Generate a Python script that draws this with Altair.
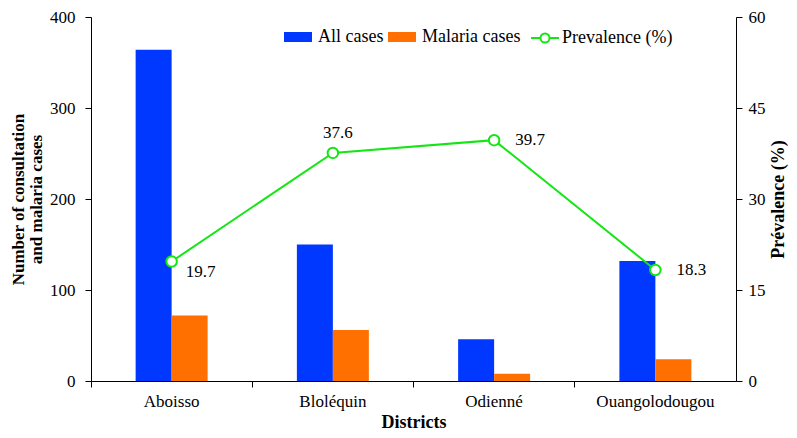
import altair as alt
import pandas as pd

districts = ["Aboisso", "Bloléquin", "Odienné", "Ouangolodougou"]
all_cases = [364, 150, 46, 132]
malaria_cases = [72, 56, 8, 24]
prevalence = [19.7, 37.6, 39.7, 18.3]
series_names = ["All cases", "Malaria cases"]
line_name = "Prevalence (%)"

BLUE = "#0038FF"
ORANGE = "#FF7000"
GREEN = "#14E614"
FONT = "Liberation Serif"

bars_df = pd.DataFrame({
    "district": districts * 2,
    "series": [series_names[0]] * len(districts) + [series_names[1]] * len(districts),
    "value": all_cases + malaria_cases,
})
prev_df = pd.DataFrame({
    "district": districts,
    "prevalence": prevalence,
    "series": [line_name] * len(districts),
    "label": [f"{v:.1f}" for v in prevalence],
})

x_scale = alt.Scale(domain=districts, paddingInner=0, paddingOuter=0)
# empty slots on either side keep the bar pair narrow inside each band
offset_domain = ["_gap_left"] + series_names + ["_gap_right"]

RECT_PATH = "M-1.4,-0.5H1.4V0.5H-1.4Z"
LINE_PATH = ("M-1.4,0H-0.45M0.45,0H1.4M-0.45,0A0.45,0.45 0 1,0 0.45,0"
             "A0.45,0.45 0 1,0 -0.45,0Z")

axis_font = dict(labelFont=FONT, labelFontSize=17, titleFont=FONT, titleFontSize=18,
                 titleFontWeight="bold", titleColor="black", labelColor="black")

bar_layer = alt.Chart(bars_df).mark_bar().encode(
    x=alt.X("district:N", scale=x_scale, sort=districts,
            axis=alt.Axis(title="Districts", ticks=False, tickSize=0, labelAngle=0,
                          labelPadding=12, titlePadding=4, domainColor="black",
                          domainWidth=1, orient="bottom", grid=False, **axis_font)),
    xOffset=alt.XOffset("series:N",
                        scale=alt.Scale(domain=offset_domain, paddingInner=0, paddingOuter=0.24)),
    y=alt.Y("value:Q", scale=alt.Scale(domain=[0, 400]),
            axis=alt.Axis(title=["Number of consultation", "and malaria cases"],
                          values=[0, 100, 200, 300, 400], grid=False, tickSize=6,
                          labelPadding=10, titlePadding=4, titleLineHeight=18,
                          domainColor="black", tickColor="black", orient="left",
                          labelFont=FONT, labelFontSize=17, titleFont=FONT,
                          titleFontSize=17, titleFontWeight="bold", titleColor="black",
                          labelColor="black")),
    color=alt.Color("series:N", sort=series_names,
                    scale=alt.Scale(domain=series_names, range=[BLUE, ORANGE]),
                    legend=alt.Legend(title=None, orient="none", direction="horizontal",
                                      legendX=197, legendY=10, symbolType=RECT_PATH,
                                      symbolSize=400, symbolStrokeWidth=0, labelOffset=10,
                                      columnPadding=4, labelFontSize=18, labelFont=FONT,
                                      labelColor="black")),
)

tick_layer = alt.Chart(prev_df).mark_point(opacity=0).encode(
    x=alt.X("district:N", scale=x_scale, sort=districts,
            axis=alt.Axis(title=None, labels=False, domain=False, ticks=True, tickSize=6,
                          tickColor="black", bandPosition=0, orient="bottom", grid=False)),
    y=alt.Y("prevalence:Q", scale=alt.Scale(domain=[0, 60]), axis=None),
)

line_layer = alt.Chart(prev_df).mark_line(
    strokeWidth=2,
    point=alt.OverlayMarkDef(filled=True, fill="white", strokeWidth=2, size=110),
).encode(
    x=alt.X("district:N", scale=x_scale, sort=districts, axis=None),
    y=alt.Y("prevalence:Q", scale=alt.Scale(domain=[0, 60]),
            axis=alt.Axis(title="Prévalence (%)", orient="right", values=[0, 15, 30, 45, 60],
                          grid=False, tickSize=6, labelPadding=6, titlePadding=22,
                          titleAngle=270, domainColor="black", tickColor="black",
                          **axis_font)),
    stroke=alt.Stroke("series:N", scale=alt.Scale(domain=[line_name], range=[GREEN]),
                      legend=alt.Legend(title=None, orient="none", direction="horizontal",
                                        legendX=443, legendY=10, symbolType=LINE_PATH,
                                        symbolSize=400, symbolStrokeWidth=2,
                                        symbolFillColor="white", labelOffset=6,
                                        labelFontSize=18, labelFont=FONT, labelColor="black")),
)

def labels(names, align, dx, dy):
    return alt.Chart(prev_df).transform_filter(
        alt.FieldOneOfPredicate(field="district", oneOf=names)
    ).mark_text(align=align, baseline="middle", dx=dx, dy=dy, fontSize=17,
                font=FONT, color="black").encode(
        x=alt.X("district:N", scale=x_scale, sort=districts, axis=None),
        y=alt.Y("prevalence:Q", scale=alt.Scale(domain=[0, 60]), axis=None),
        text="label:N",
    )

chart = alt.layer(
    bar_layer,
    line_layer,
    tick_layer,
    labels(["Aboisso"], "left", 14, 11),
    labels(["Bloléquin"], "center", 5, -20),
    labels(["Odienné", "Ouangolodougou"], "left", 21, 0),
).resolve_scale(
    y="independent", color="independent"
).resolve_axis(x="independent").properties(
    width=645, height=364,
    autosize=alt.AutoSizeParams(type="none"),
    padding={"left": 83, "top": 9, "right": 53, "bottom": 49},
).configure_view(stroke=None)

chart.save("out.html", embed_options={"renderer": "svg", "actions": False})
